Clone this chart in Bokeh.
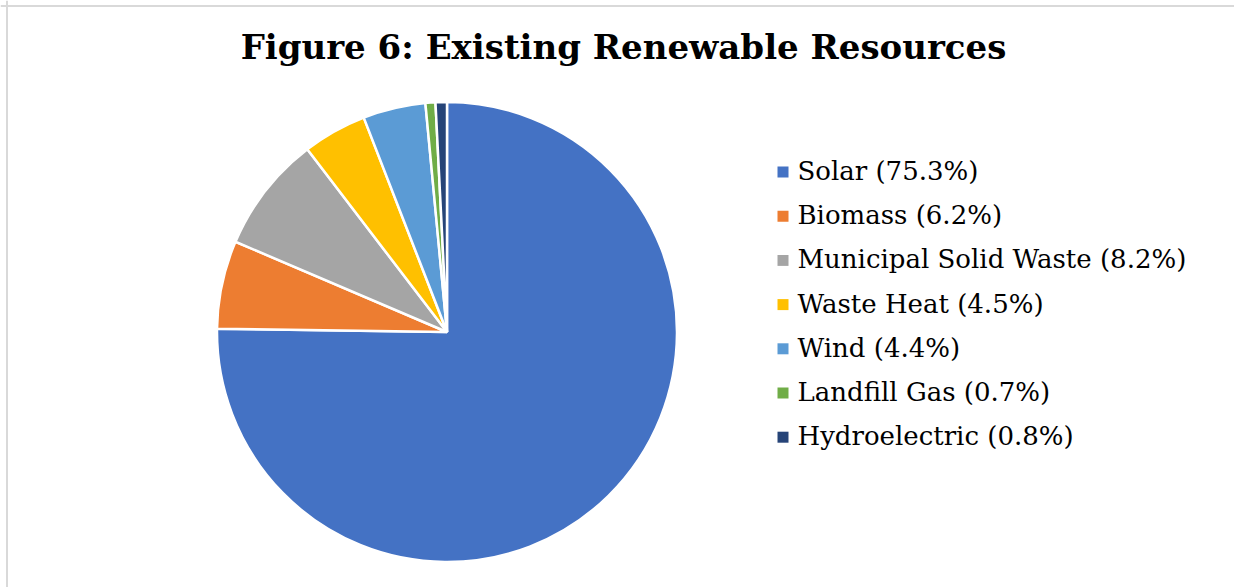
import math
from bokeh.plotting import figure
from bokeh.models import ColumnDataSource, Span
from bokeh.core.properties import value
from bokeh.embed import file_html
from bokeh.resources import INLINE

categories = ["Solar", "Biomass", "Municipal Solid Waste", "Waste Heat", "Wind", "Landfill Gas", "Hydroelectric"]
shares = [75.3, 6.2, 8.2, 4.5, 4.4, 0.7, 0.8]
colors = ["#4472C4", "#ED7D31", "#A5A5A5", "#FFC000", "#5B9BD5", "#70AD47", "#264478"]
labels = [f"{c} ({s}%)" for c, s in zip(categories, shares)]
title_text = "Figure 6: Existing Renewable Resources"

W, H = 1234, 587
p = figure(width=W, height=H, x_range=(0, W), y_range=(0, H),
           output_backend="svg", toolbar_location=None, min_border=0)
p.axis.visible = False
p.grid.visible = False
p.outline_line_color = None
p.background_fill_color = "white"
p.border_fill_color = "white"

total = sum(shares)
starts, ends = [], []
cum = 0.0
for s in shares:
    starts.append(math.pi / 2 - 2 * math.pi * cum / total)
    cum += s
    ends.append(math.pi / 2 - 2 * math.pi * cum / total)

src = ColumnDataSource(dict(start=starts, end=ends, color=colors, label=labels,
                            ly=[H - (171.5 + 44.2 * i) for i in range(len(shares))],
                            ty=[H - (170.5 + 44.2 * i) for i in range(len(shares))]))

cx, cy, r = 446.5, H - 331.5, 230
p.wedge(x=cx, y=cy, radius=r, start_angle="start", end_angle="end", direction="clock",
        fill_color="color", line_color="white", line_width=2.5, source=src)

# legend
p.scatter(x=782.5, y="ly", marker="square", size=11, fill_color="color", line_color=None, source=src)
p.text(x=797, y="ty", text="label", text_font=value("DejaVu Serif"), text_font_size="26px",
       text_color="black", text_baseline="middle", text_align="left", source=src)

# title
p.text(x=[623], y=[H - 46], text=[title_text], text_font=value("DejaVu Serif"),
       text_font_size="34px", text_font_style="bold", text_color="black",
       text_align="center", text_baseline="middle")

# chart area border (left and top)
p.add_layout(Span(location=6.5, dimension="height", line_color="#D9D9D9", line_width=2))
p.add_layout(Span(location=H - 5.5, dimension="width", line_color="#D9D9D9", line_width=2))

open("out.html", "w").write(file_html(p, INLINE))
